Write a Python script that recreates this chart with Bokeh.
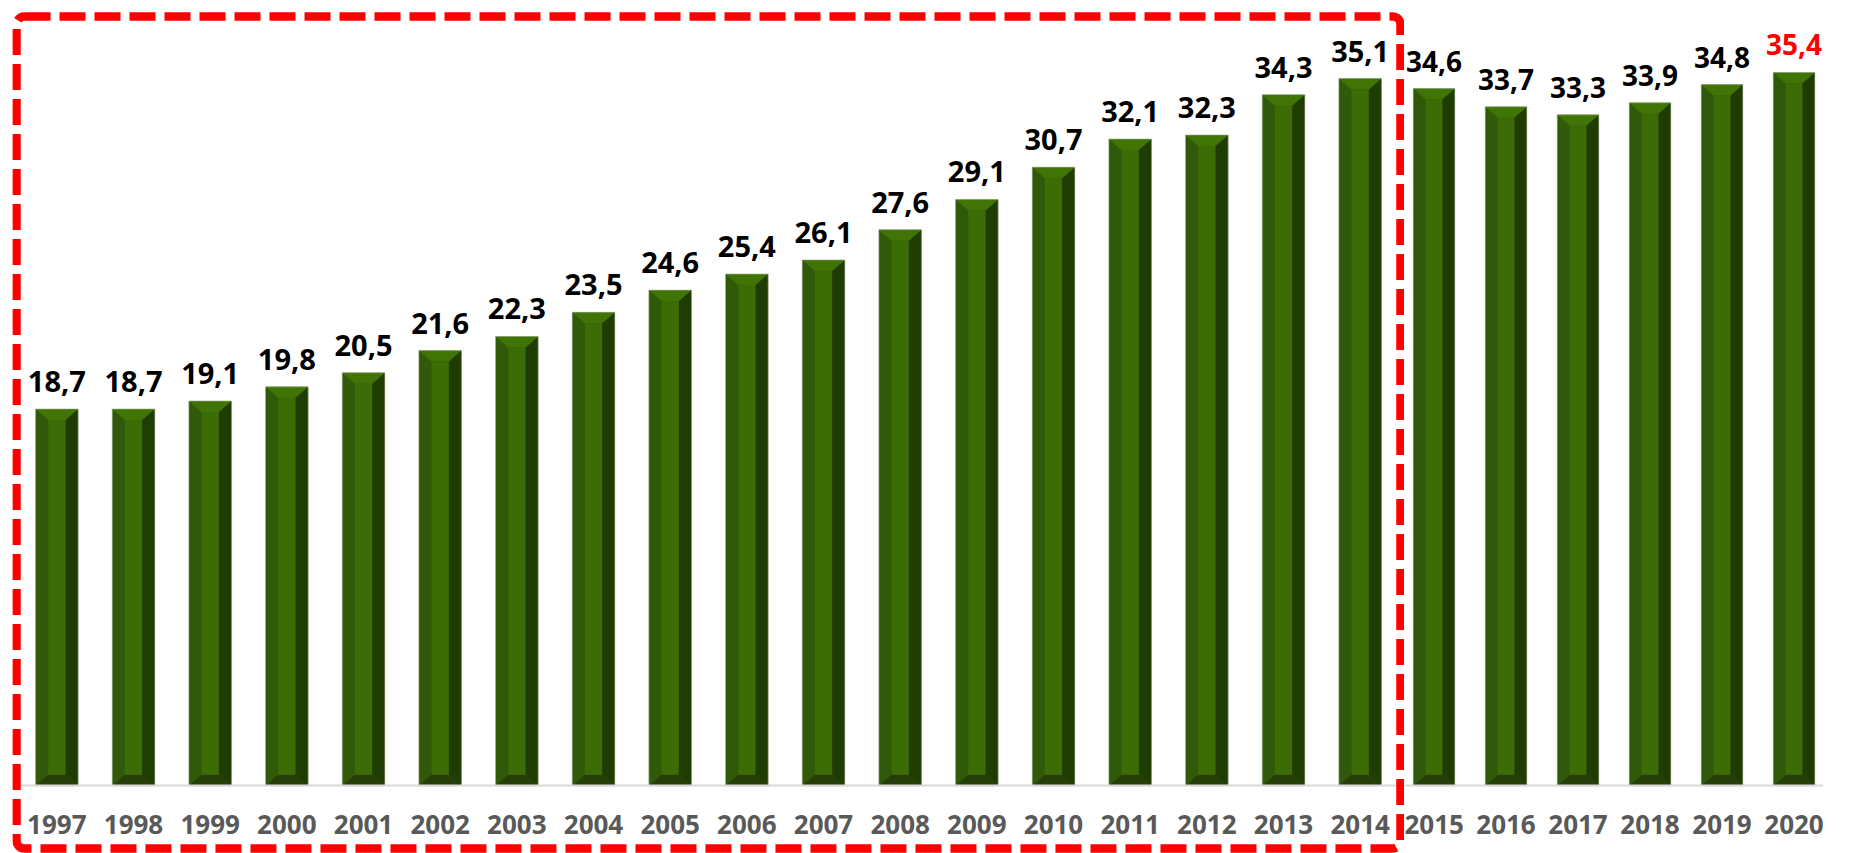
from bokeh.plotting import figure
from bokeh.models import ColumnDataSource, FactorRange, Range1d, LabelSet, BoxAnnotation
from bokeh.layouts import row
from bokeh.core.properties import value
from bokeh.embed import file_html
from bokeh.resources import INLINE

years_a = ["1997", "1998", "1999", "2000", "2001", "2002", "2003", "2004", "2005",
           "2006", "2007", "2008", "2009", "2010", "2011", "2012", "2013", "2014"]
values_a = [18.7, 18.7, 19.1, 19.8, 20.5, 21.6, 22.3, 23.5, 24.6,
            25.4, 26.1, 27.6, 29.1, 30.7, 32.1, 32.3, 34.3, 35.1]
years_b = ["2015", "2016", "2017", "2018", "2019", "2020"]
values_b = [34.6, 33.7, 33.3, 33.9, 34.8, 35.4]
label_colors_b = ["#000000", "#000000", "#000000", "#000000", "#000000", "#ff0000"]

FACE = "#3b6c05"
TOP = "#407506"
LEFT = "#31590a"
RIGHT = "#1f3c02"
BOTTOM = "#263f08"

H = 853
PX_PER_UNIT = 20.15
BASE_PX = 785.3
Y_END = BASE_PX / PX_PER_UNIT
Y_START = -(H - BASE_PX) / PX_PER_UNIT


def make_fig(years, values, lcolors, width, mbl, mbr, bar_w, side_px, pitch_px, pad, font_px):
    p = figure(width=width, height=H, output_backend="svg", toolbar_location=None,
               x_range=FactorRange(factors=years, range_padding=pad, range_padding_units="absolute"),
               y_range=Range1d(Y_START, Y_END), y_axis_location=None,
               min_border_left=mbl, min_border_right=mbr, min_border_top=0,
               min_border_bottom=0)
    p.outline_line_color = None
    p.xgrid.grid_line_color = None
    p.ygrid.grid_line_color = None
    p.background_fill_color = "white"
    p.border_fill_color = "white"

    s = side_px / pitch_px          # side bevel width in category units
    b = 11 / PX_PER_UNIT            # vertical bevel in data units
    hw = bar_w / 2

    labels = [f"{v:.1f}".replace(".", ",") for v in values]
    src = ColumnDataSource(dict(x=years, top=values, face_top=[v - b for v in values],
                                label=labels, color=lcolors))
    p.vbar(x="x", top="top", bottom=0, width=bar_w, source=src,
           fill_color=LEFT, line_color=None)
    xs_r, ys_r, xs_t, ys_t, xs_b, ys_b = [], [], [], [], [], []
    for yr, v in zip(years, values):
        xs_r.append([(yr, hw), (yr, hw), (yr, hw - s), (yr, hw - s)])
        ys_r.append([v, 0, b, v - b])
        xs_t.append([(yr, -hw), (yr, hw), (yr, hw - s), (yr, -hw + s)])
        ys_t.append([v, v, v - b, v - b])
        xs_b.append([(yr, -hw), (yr, hw), (yr, hw - s), (yr, -hw + s)])
        ys_b.append([0, 0, b, b])
    p.patches(xs=xs_r, ys=ys_r, fill_color=RIGHT, line_color=None)
    p.patches(xs=xs_t, ys=ys_t, fill_color=TOP, line_color=None)
    p.patches(xs=xs_b, ys=ys_b, fill_color=BOTTOM, line_color=None)
    p.vbar(x="x", top="face_top", bottom=b, width=bar_w - 2 * s, source=src,
           fill_color=FACE, line_color=None)
    # faint light outline around each bar
    p.vbar(x="x", top="top", bottom=0, width=bar_w, source=src,
           fill_alpha=0, line_color="#a3ae96", line_alpha=0.6, line_width=1)

    p.add_layout(LabelSet(x="x", y="top", text="label", source=src, y_offset=17,
                          text_align="center", text_baseline="alphabetic",
                          text_font=value("Open Sans"), text_font_style="bold",
                          text_font_size=f"{font_px}px", text_color="color"))

    ax = p.xaxis[0]
    ax.fixed_location = 0
    ax.axis_line_color = "#d9d9d9"
    ax.axis_line_width = 2
    ax.major_tick_line_color = None
    ax.minor_tick_line_color = None
    ax.major_label_standoff = 23
    ax.major_label_text_font = "Open Sans"
    ax.major_label_text_font_style = "bold"
    ax.major_label_text_font_size = "26px"
    ax.major_label_text_color = "#595959"
    return p


p1 = make_fig(years_a, values_a, ["#000000"] * len(years_a), 1404, 12, 0,
              0.556, 12.7, 76.67, 6 / 76.67, 29)
p1.add_layout(BoxAnnotation(left=16, right=1400, top=16, bottom=848,
                            left_units="canvas", right_units="canvas",
                            top_units="canvas", bottom_units="canvas",
                            fill_alpha=0, line_color="#ff0000", line_alpha=1.0,
                            line_width=8.5, line_dash="26 9", border_radius=8))

p2 = make_fig(years_b, values_b, label_colors_b, 440, 0, 21,
              0.578, 12.5, 72.0, -6.5 / 72.0, 28)

layout = row(p1, p2, spacing=0)
open("out.html", "w").write(file_html(layout, INLINE))
